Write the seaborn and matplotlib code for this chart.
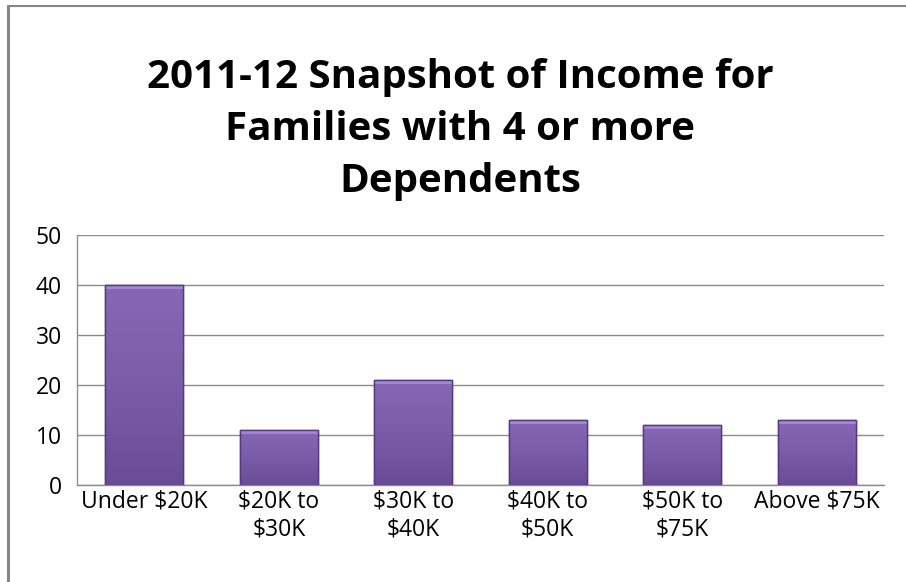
import numpy as np
import pandas as pd
import matplotlib
matplotlib.use("Agg")
import matplotlib.pyplot as plt
import seaborn as sns
from matplotlib.lines import Line2D
from matplotlib.patches import Rectangle
from matplotlib.colors import LinearSegmentedColormap

categories = ["Under $20K", "$20K to\n$30K", "$30K to\n$40K", "$40K to\n$50K", "$50K to\n$75K", "Above $75K"]
values = [40, 11, 21, 13, 12, 13]
y_ticks = [0, 10, 20, 30, 40, 50]
title = "2011-12 Snapshot of Income for\nFamilies with 4 or more\nDependents"

sns.set_style("white")
plt.rcParams['font.family'] = ['Open Sans', 'DejaVu Sans']

df = pd.DataFrame({"cat": categories, "val": values})

fig = plt.figure(figsize=(9.06, 5.82), dpi=100)
ax = fig.add_axes([0.085, 0.1667, 0.8907, 0.4296])

sns.barplot(data=df, x="cat", y="val", color="#7759a3", width=0.58,
            edgecolor="#56397e", linewidth=1.0, ax=ax, zorder=3, saturation=1)

# gradient fill clipped to each bar
grad = np.linspace(0, 1, 256).reshape(-1, 1)
cmap = LinearSegmentedColormap.from_list("p", ["#6a4b96", "#7a5ca8", "#8868b6"])
for p in list(ax.patches):
    x0, y0 = p.get_x(), p.get_y()
    w, h = p.get_width(), p.get_height()
    im = ax.imshow(grad, extent=[x0, x0 + w, y0, y0 + h], origin="lower",
                   cmap=cmap, aspect="auto", zorder=3.5)
    im.set_clip_path(p)
    ax.add_patch(Rectangle((x0, y0 + h - 0.9), w, 0.9, facecolor="#a587d0",
                           edgecolor="none", zorder=3.6, clip_path=p))
    ax.add_patch(Rectangle((x0, y0), w, h, facecolor="none", edgecolor="#56397e",
                           linewidth=1.0, zorder=3.7))

ax.set_xlim(-0.5, len(categories) - 0.5)
ax.set_ylim(0, 50)
ax.set_yticks(y_ticks)
ax.set_yticklabels([str(v) for v in y_ticks], fontsize=16.5)
ax.set_xticks(range(len(categories)))
ax.set_xticklabels(categories, fontsize=16.5, parse_math=False, linespacing=1.22)
ax.set_xlabel("")
ax.set_ylabel("")
ax.grid(axis="y", color="#8c8c8c", linewidth=1.0, zorder=0)
ax.set_axisbelow(True)
for s in ["top", "right"]:
    ax.spines[s].set_visible(False)
for s in ["left", "bottom"]:
    ax.spines[s].set_color("#8c8c8c")
    ax.spines[s].set_linewidth(1.0)
ax.tick_params(axis="both", length=0, pad=3, colors="black")
ax.tick_params(axis="y", pad=11)

fig.text(0.508, 0.777, title, ha="center", va="center", fontsize=29,
         fontweight="bold", linespacing=1.43, color="black")

# chart border (cropped)
fig.add_artist(Line2D([0.0085, 0.0085], [0, 0.9895], transform=fig.transFigure,
                      color="#858585", linewidth=2.2))
fig.add_artist(Line2D([0.0085, 1.0], [0.9895, 0.9895], transform=fig.transFigure,
                      color="#858585", linewidth=1.5))

fig.savefig("out.png", dpi=100)
